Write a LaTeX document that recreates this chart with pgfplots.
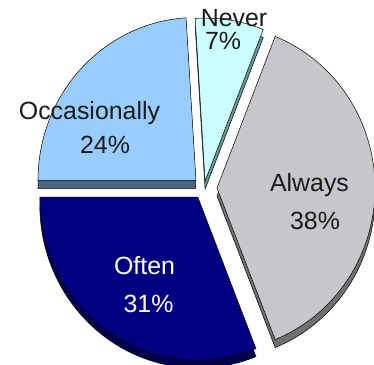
\documentclass[border=0pt]{standalone}
\usepackage{pgfplots}
\pgfplotsset{compat=1.18}
\usepackage{fontspec}
\setmainfont{Liberation Sans}

\definecolor{alwaysTop}{HTML}{C8C6CA}
\definecolor{alwaysSide}{HTML}{707070}
\definecolor{oftenTop}{HTML}{000080}
\definecolor{oftenSide}{HTML}{00004D}
\definecolor{occTop}{HTML}{99CCFF}
\definecolor{occSide}{HTML}{4D6680}
\definecolor{neverTop}{HTML}{CCFFFF}
\definecolor{neverSide}{HTML}{669999}
\definecolor{lbl}{HTML}{1A1A1A}

% #1 start angle, #2 percent, #3 explode, #4 top colour, #5 side colour
\newcommand\pieslice[5]{%
  \begin{scope}[shift={(axis cs:204,177)}, shift={({#1-1.8*#2}:#3bp)}]
    \filldraw[fill=#5, draw=black, line width=0.5pt, yshift=-8bp]
      (0pt,0pt) -- (#1:158bp and 163bp)
      arc[start angle=#1, delta angle={-3.6*#2}, x radius=158bp, y radius=163bp] -- cycle;
    \filldraw[fill=#4, draw=black, line width=0.5pt]
      (0pt,0pt) -- (#1:158bp and 163bp)
      arc[start angle=#1, delta angle={-3.6*#2}, x radius=158bp, y radius=163bp] -- cycle;
  \end{scope}}

\begin{document}
\begin{tikzpicture}
\begin{axis}[
    scale only axis,
    width=374bp, height=365bp,
    xmin=0, xmax=374, ymin=0, ymax=365,
    hide axis, clip=false,
    anchor=south west, at={(0pt,0pt)},
  ]
  % slices: start angle, percent, explode
  \pieslice{93.6}{7}{7}{neverTop}{neverSide}    % Never
  \pieslice{180}{24}{11}{occTop}{occSide}       % Occasionally
  \pieslice{68.4}{38}{13}{alwaysTop}{alwaysSide}% Always
  \pieslice{-68.4}{31}{11}{oftenTop}{oftenSide} % Often

  \tikzset{lab/.style={anchor=base, inner sep=0pt, font=\fontsize{25}{30}\selectfont}}
  \node[lab, text=lbl] at (axis cs:89.5,245) {Occasionally};
  \node[lab, text=lbl] at (axis cs:105,211) {24\%};
  \node[lab, text=lbl] at (axis cs:309.5,173) {Always};
  \node[lab, text=lbl] at (axis cs:315,135) {38\%};
  \node[lab, text=white] at (axis cs:144.5,90) {Often};
  \node[lab, text=white] at (axis cs:148.5,52) {31\%};
  \node[lab, text=lbl] at (axis cs:234,338) {Never};
  \node[lab, text=lbl] at (axis cs:223,315) {7\%};
\end{axis}
\pgfresetboundingbox
\useasboundingbox (0bp,0bp) rectangle (374bp,365bp);
\end{tikzpicture}
\end{document}
